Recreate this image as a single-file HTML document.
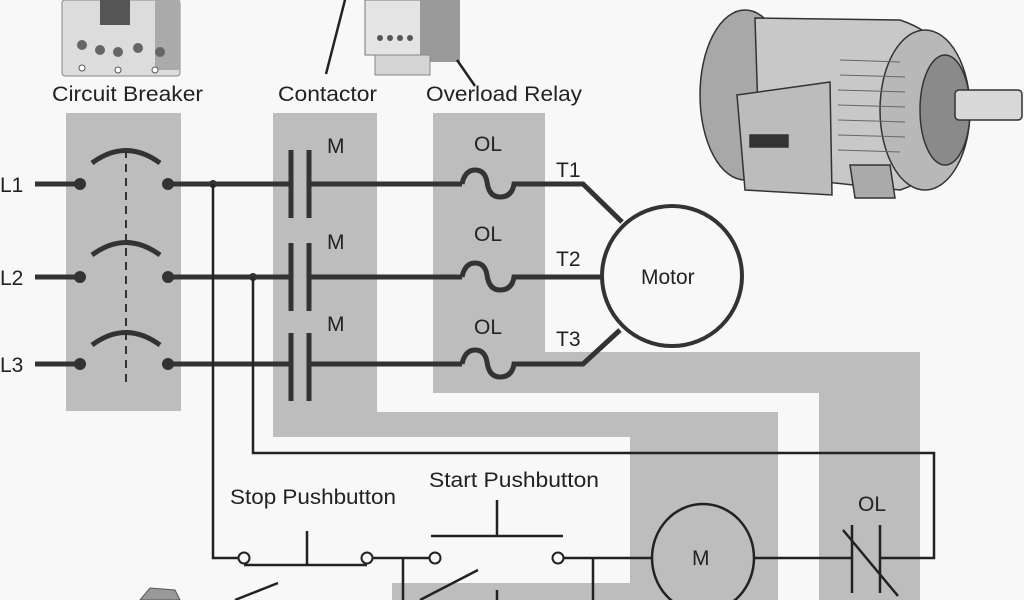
<!DOCTYPE html>
<html><head><meta charset="utf-8"><style>
html,body{margin:0;padding:0;background:#f8f8f8;}
svg{display:block;}
text{font-family:"Liberation Sans",Arial,sans-serif;fill:#222;}
</style></head><body>
<svg width="1024" height="600" viewBox="0 0 1024 600" xmlns="http://www.w3.org/2000/svg">
<rect width="1024" height="600" fill="#f8f8f8"/>
<g fill="#bdbdbd">
<rect x="66" y="113" width="115" height="298"/>
<path d="M273 113 H377 V412 H778 V600 H630 V437 H273 Z"/>
<rect x="392" y="583" width="238" height="17"/>
<path d="M433 113 H545 V352 H920 V600 H819 V393 H433 Z"/>
</g>
<g>
<rect x="62" y="0" width="118" height="76" rx="3" fill="#dcdcdc" stroke="#888"/>
<rect x="100" y="0" width="30" height="25" fill="#555"/>
<rect x="155" y="0" width="25" height="70" fill="#aaa"/>
<g fill="#666"><circle cx="82" cy="45" r="5"/><circle cx="100" cy="50" r="5"/><circle cx="118" cy="52" r="5"/><circle cx="138" cy="48" r="5"/><circle cx="160" cy="52" r="5"/></g>
<g fill="#fff" stroke="#555"><circle cx="82" cy="68" r="3"/><circle cx="118" cy="70" r="3"/><circle cx="155" cy="70" r="3"/></g>
<rect x="365" y="0" width="66" height="55" fill="#e4e4e4" stroke="#777"/>
<rect x="420" y="0" width="40" height="62" fill="#9a9a9a"/>
<rect x="375" y="55" width="55" height="20" fill="#d4d4d4" stroke="#888"/>
<g fill="#555"><circle cx="380" cy="38" r="3"/><circle cx="390" cy="38" r="3"/><circle cx="400" cy="38" r="3"/><circle cx="410" cy="38" r="3"/></g>
<line x1="345" y1="0" x2="326" y2="74" stroke="#222" stroke-width="2.5"/>
<line x1="457" y1="60" x2="475" y2="86" stroke="#222" stroke-width="2.5"/>
</g>
<g stroke="#333" stroke-width="1.5">
<ellipse cx="745" cy="95" rx="45" ry="85" fill="#a8a8a8"/>
<path d="M755 18 L900 20 Q960 40 960 105 Q960 170 900 190 L760 175 Z" fill="#c8c8c8"/>
<ellipse cx="925" cy="110" rx="45" ry="80" fill="#b8b8b8"/>
<ellipse cx="945" cy="110" rx="25" ry="55" fill="#8a8a8a"/>
<rect x="955" y="90" width="67" height="30" rx="4" fill="#d8d8d8"/>
<path d="M737 95 L830 82 L832 195 L745 190 Z" fill="#bcbcbc"/>
<rect x="750" y="135" width="38" height="12" fill="#333"/>
<path d="M850 165 L890 165 L895 198 L855 198 Z" fill="#aaa"/>
<g stroke="#666" stroke-width="1"><line x1="840" y1="60" x2="900" y2="62"/><line x1="840" y1="75" x2="905" y2="77"/><line x1="838" y1="90" x2="905" y2="92"/><line x1="838" y1="105" x2="905" y2="107"/><line x1="838" y1="120" x2="905" y2="122"/><line x1="838" y1="135" x2="905" y2="137"/><line x1="838" y1="150" x2="900" y2="152"/></g>
</g>
<g font-size="21">
<text x="52" y="101" textLength="151" lengthAdjust="spacingAndGlyphs">Circuit Breaker</text>
<text x="278" y="101" textLength="99" lengthAdjust="spacingAndGlyphs">Contactor</text>
<text x="426" y="101" textLength="156" lengthAdjust="spacingAndGlyphs">Overload Relay</text>
<text x="0" y="192">L1</text>
<text x="0" y="285">L2</text>
<text x="0" y="372">L3</text>
<text x="327" y="153">M</text>
<text x="327" y="249">M</text>
<text x="327" y="331">M</text>
<text x="474" y="151">OL</text>
<text x="474" y="241">OL</text>
<text x="474" y="334">OL</text>
<text x="556" y="177">T1</text>
<text x="556" y="266">T2</text>
<text x="556" y="346">T3</text>
<text x="641" y="284">Motor</text>
<text x="230" y="504" textLength="166" lengthAdjust="spacingAndGlyphs">Stop Pushbutton</text>
<text x="429" y="487" textLength="170" lengthAdjust="spacingAndGlyphs">Start Pushbutton</text>
<text x="858" y="511">OL</text>
<text x="692" y="565">M</text>
</g>
<g stroke="#333" stroke-width="5" fill="none">
<line x1="35" y1="184" x2="80" y2="184"/>
<line x1="35" y1="277" x2="80" y2="277"/>
<line x1="35" y1="364" x2="80" y2="364"/>
<path d="M92 163 Q126 138 160 163"/>
<path d="M92 255 Q126 230 160 255"/>
<path d="M92 345 Q126 320 160 345"/>
<line x1="168" y1="184" x2="290" y2="184"/>
<line x1="168" y1="277" x2="290" y2="277"/>
<line x1="168" y1="364" x2="290" y2="364"/>
<line x1="291" y1="150" x2="291" y2="218"/><line x1="309" y1="150" x2="309" y2="218"/>
<line x1="291" y1="243" x2="291" y2="311"/><line x1="309" y1="243" x2="309" y2="311"/>
<line x1="291" y1="333" x2="291" y2="401"/><line x1="309" y1="333" x2="309" y2="401"/>
<line x1="309" y1="184" x2="462" y2="184"/>
<line x1="309" y1="277" x2="462" y2="277"/>
<line x1="309" y1="364" x2="462" y2="364"/>
<path d="M462 184 Q465 170 475 170 Q485 170 487 182 Q489 197 500 197 Q512 197 514 184 H583 L622 222"/>
<path d="M462 277 Q465 263 475 263 Q485 263 487 275 Q489 290 500 290 Q512 290 514 277 H602"/>
<path d="M462 364 Q465 350 475 350 Q485 350 487 362 Q489 377 500 377 Q512 377 514 364 H583 L620 330"/>
<circle cx="672" cy="276" r="70" stroke-width="4"/>
</g>
<line x1="126" y1="150" x2="126" y2="385" stroke="#333" stroke-width="2" stroke-dasharray="8,6"/>
<g fill="#333">
<circle cx="80" cy="184" r="6"/><circle cx="168" cy="184" r="6"/>
<circle cx="80" cy="277" r="6"/><circle cx="168" cy="277" r="6"/>
<circle cx="80" cy="364" r="6"/><circle cx="168" cy="364" r="6"/>
<circle cx="213" cy="184" r="4"/><circle cx="253" cy="277" r="4"/>
</g>
<g stroke="#222" stroke-width="2.5" fill="none">
<polyline points="213,184 213,558 239,558"/>
<polyline points="253,277 253,453 934,453 934,558 880,558"/>
<line x1="244" y1="565" x2="367" y2="565"/>
<line x1="307" y1="531" x2="307" y2="565"/>
<line x1="372" y1="558" x2="430" y2="558"/>
<line x1="403" y1="558" x2="403" y2="600"/>
<line x1="431" y1="536" x2="563" y2="536"/>
<line x1="497" y1="500" x2="497" y2="536"/>
<line x1="563" y1="558" x2="652" y2="558"/>
<line x1="593" y1="558" x2="593" y2="600"/>
<ellipse cx="703" cy="558" rx="51" ry="54"/>
<line x1="754" y1="558" x2="852" y2="558"/>
<line x1="852" y1="525" x2="852" y2="593"/>
<line x1="880" y1="525" x2="880" y2="593"/>
<line x1="843" y1="530" x2="898" y2="596"/>
<line x1="235" y1="600" x2="278" y2="583"/>
<line x1="420" y1="600" x2="478" y2="570"/>
<line x1="497" y1="590" x2="497" y2="600"/>
</g>
<g fill="#f8f8f8" stroke="#222" stroke-width="2">
<circle cx="244" cy="558" r="5.5"/><circle cx="367" cy="558" r="5.5"/>
<circle cx="435" cy="558" r="5.5"/><circle cx="558" cy="558" r="5.5"/>
</g>
<path d="M140 600 L150 588 L175 590 L180 600 Z" fill="#999" stroke="#555"/>
</svg>
</body></html>
